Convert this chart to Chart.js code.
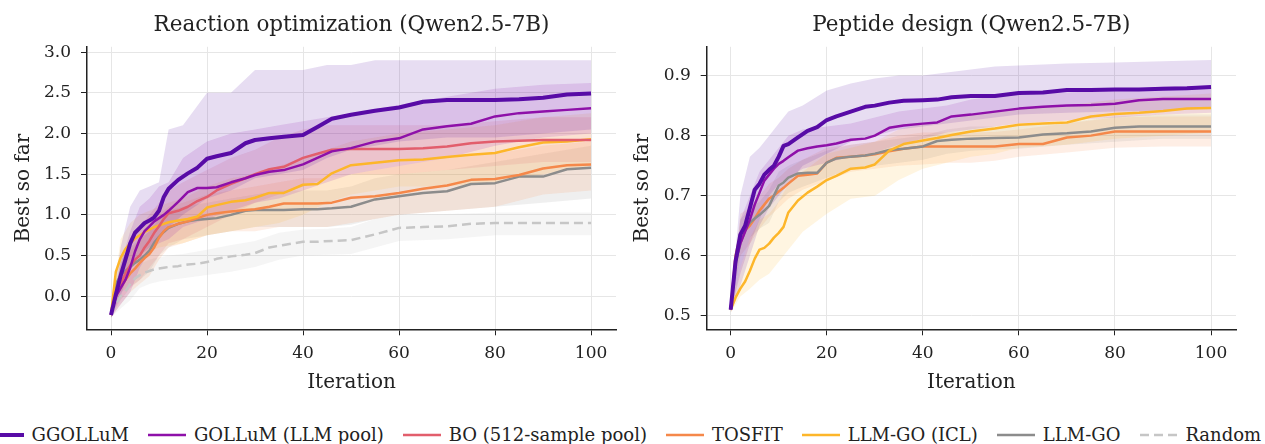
<!DOCTYPE html>
<html><head><meta charset="utf-8">
<script src="https://cdn.jsdelivr.net/npm/chart.js@4.4.1/dist/chart.umd.min.js"></script>
<style>
html,body{margin:0;padding:0;background:#fff;width:1265px;height:444px;overflow:hidden;font-family:"DejaVu Serif",serif;}
#left{position:absolute;left:0;top:0;}
#right{position:absolute;left:626px;top:0;}
#legend{position:absolute;left:-14px;top:424px;display:flex;white-space:nowrap;gap:19.5px;font-size:18px;line-height:21px;color:#222;align-items:center;}
.item{display:flex;align-items:center;gap:7.5px;}
.item svg{display:block;}
</style></head><body>
<canvas id="left" width="626" height="400"></canvas>
<canvas id="right" width="639" height="400"></canvas>
<div id="legend"></div>
<script>
// ---- categories / x values ----
const iterations = [0,1,2,3,4,5,6,7,8,9,10,11,12,14,16,18,20,22,25,28,30,33,36,40,43,46,50,55,60,65,70,75,80,85,90,95,100];
const bandIterations = [0,2,4,6,8,10,12,15,20,25,30,35,40,45,50,55,60,70,80,90,100];
const xTicks = [0,20,40,60,80,100];
const rxnYTicks = [0.0,0.5,1.0,1.5,2.0,2.5,3.0];
const pepYTicks = [0.5,0.6,0.7,0.8,0.9];
const seriesNames = ["GGOLLuM","GOLLuM (LLM pool)","BO (512-sample pool)","TOSFIT","LLM-GO (ICL)","LLM-GO","Random"];

// ---- Reaction optimization: means ----
const rxnGGOLLuM = [-0.23,0.02,0.25,0.45,0.65,0.78,0.84,0.9,0.93,0.97,1.05,1.22,1.32,1.43,1.51,1.58,1.69,1.72,1.76,1.88,1.92,1.94,1.96,1.98,2.08,2.18,2.23,2.28,2.32,2.39,2.41,2.41,2.41,2.42,2.44,2.48,2.49];
const rxnGOLLuM = [-0.23,0.0,0.1,0.2,0.35,0.55,0.7,0.8,0.86,0.92,0.96,1.0,1.05,1.16,1.28,1.33,1.33,1.34,1.4,1.45,1.49,1.53,1.55,1.62,1.70,1.78,1.82,1.9,1.94,2.05,2.09,2.12,2.21,2.25,2.27,2.29,2.31];
const rxnBO = [-0.23,0.0,0.15,0.28,0.38,0.45,0.5,0.6,0.68,0.78,0.86,0.95,1.02,1.05,1.1,1.17,1.22,1.3,1.38,1.45,1.5,1.56,1.59,1.70,1.75,1.8,1.81,1.81,1.81,1.82,1.84,1.88,1.9,1.91,1.92,1.92,1.92];
const rxnTOSFIT = [-0.23,0.0,0.1,0.2,0.28,0.34,0.41,0.47,0.52,0.6,0.72,0.8,0.85,0.89,0.92,0.96,1.0,1.02,1.04,1.06,1.07,1.1,1.14,1.14,1.14,1.15,1.21,1.23,1.27,1.32,1.36,1.43,1.44,1.49,1.57,1.61,1.62];
const rxnICL = [-0.23,0.3,0.47,0.58,0.65,0.71,0.75,0.79,0.82,0.85,0.87,0.89,0.91,0.93,0.95,0.98,1.09,1.12,1.16,1.18,1.21,1.27,1.27,1.37,1.38,1.51,1.61,1.64,1.67,1.68,1.71,1.74,1.76,1.83,1.89,1.9,1.93];
const rxnLLMGO = [-0.23,0.15,0.26,0.31,0.36,0.41,0.45,0.5,0.56,0.66,0.73,0.79,0.84,0.89,0.92,0.94,0.95,0.96,1.0,1.05,1.06,1.06,1.06,1.07,1.07,1.08,1.1,1.19,1.23,1.27,1.29,1.38,1.39,1.47,1.47,1.56,1.58];
const rxnRandom = [-0.23,-0.1,0.0,0.06,0.15,0.22,0.26,0.29,0.31,0.33,0.34,0.35,0.36,0.37,0.39,0.4,0.42,0.46,0.49,0.51,0.53,0.6,0.63,0.67,0.67,0.68,0.69,0.76,0.84,0.85,0.86,0.89,0.9,0.9,0.9,0.9,0.9];

// ---- Reaction optimization: bands (lower / upper) ----
const rxnGGOLLuMLow  = [-0.26,0.0,0.35,0.5,0.6,0.7,0.85,1.0,1.2,1.3,1.45,1.5,1.55,1.7,1.8,1.85,1.9,1.95,1.95,2.0,2.05];
const rxnGGOLLuMHigh = [-0.2,0.6,1.1,1.3,1.35,1.4,2.05,2.1,2.5,2.5,2.78,2.78,2.78,2.84,2.84,2.9,2.9,2.9,2.9,2.9,2.9];
const rxnGOLLuMLow  = [-0.26,-0.1,0.05,0.35,0.55,0.65,0.7,0.85,0.95,1.05,1.15,1.2,1.3,1.4,1.5,1.55,1.6,1.7,1.85,1.95,2.0];
const rxnGOLLuMHigh = [-0.2,0.4,0.8,1.1,1.2,1.35,1.4,1.7,1.9,2.0,2.05,2.1,2.15,2.2,2.25,2.3,2.35,2.45,2.55,2.6,2.62];
const rxnBOLow  = [-0.26,-0.05,0.1,0.2,0.35,0.5,0.65,0.7,0.85,1.0,1.15,1.25,1.35,1.45,1.5,1.5,1.5,1.55,1.6,1.65,1.65];
const rxnBOHigh = [-0.2,0.4,0.7,0.85,1.0,1.15,1.3,1.4,1.55,1.7,1.8,1.95,2.05,2.1,2.1,2.1,2.1,2.1,2.15,2.2,2.2];
const rxnTOSFITLow  = [-0.26,-0.1,0.05,0.15,0.25,0.45,0.6,0.65,0.75,0.8,0.8,0.85,0.85,0.85,0.9,0.95,1.0,1.05,1.1,1.25,1.3];
const rxnTOSFITHigh = [-0.2,0.35,0.55,0.7,0.8,1.0,1.1,1.15,1.25,1.3,1.35,1.4,1.45,1.45,1.5,1.55,1.6,1.7,1.75,1.85,1.9];
const rxnICLLow  = [-0.26,0.25,0.4,0.5,0.55,0.6,0.62,0.65,0.75,0.8,0.85,0.9,1.0,1.15,1.25,1.3,1.35,1.35,1.4,1.5,1.6];
const rxnICLHigh = [-0.2,0.7,0.9,1.0,1.05,1.1,1.15,1.2,1.35,1.45,1.5,1.6,1.7,1.8,1.9,1.95,2.0,2.05,2.1,2.2,2.25];
const rxnLLMGOLow  = [-0.26,0.05,0.12,0.2,0.3,0.5,0.6,0.7,0.75,0.8,0.85,0.85,0.85,0.85,0.88,0.95,1.0,1.05,1.1,1.15,1.2];
const rxnLLMGOHigh = [-0.2,0.45,0.6,0.7,0.8,0.95,1.05,1.1,1.15,1.2,1.25,1.3,1.3,1.3,1.35,1.45,1.5,1.55,1.65,1.75,1.85];
const rxnRandomLow  = [-0.26,-0.15,-0.05,0.1,0.15,0.18,0.2,0.22,0.26,0.3,0.36,0.45,0.5,0.51,0.52,0.6,0.68,0.7,0.75,0.75,0.75];
const rxnRandomHigh = [-0.2,0.15,0.3,0.4,0.45,0.48,0.5,0.52,0.57,0.63,0.68,0.78,0.82,0.83,0.85,0.95,1.0,1.01,1.03,1.03,1.03];

// ---- Peptide design: means ----
const pepGGOLLuM = [0.51,0.59,0.635,0.65,0.68,0.71,0.72,0.735,0.743,0.75,0.765,0.783,0.786,0.797,0.808,0.814,0.826,0.832,0.84,0.848,0.85,0.855,0.858,0.859,0.86,0.864,0.866,0.866,0.871,0.872,0.876,0.876,0.877,0.877,0.878,0.879,0.881];
const pepGOLLuM = [0.51,0.59,0.62,0.64,0.66,0.685,0.705,0.725,0.735,0.745,0.753,0.758,0.764,0.775,0.779,0.782,0.784,0.787,0.793,0.795,0.8,0.813,0.817,0.82,0.822,0.832,0.835,0.84,0.845,0.848,0.85,0.851,0.853,0.859,0.861,0.861,0.861];
const pepTOSFIT = [0.51,0.6,0.635,0.642,0.65,0.662,0.675,0.685,0.695,0.7,0.707,0.713,0.72,0.733,0.735,0.737,0.755,0.763,0.765,0.767,0.769,0.774,0.778,0.782,0.782,0.782,0.782,0.782,0.786,0.786,0.797,0.8,0.807,0.807,0.807,0.807,0.807];
const pepICL = [0.51,0.53,0.545,0.557,0.575,0.595,0.61,0.613,0.62,0.63,0.638,0.648,0.672,0.692,0.705,0.715,0.726,0.733,0.745,0.747,0.752,0.775,0.786,0.792,0.796,0.801,0.807,0.812,0.818,0.82,0.822,0.832,0.836,0.838,0.841,0.845,0.846];
const pepLLMGO = [0.51,0.585,0.62,0.642,0.655,0.662,0.668,0.675,0.683,0.7,0.717,0.722,0.73,0.737,0.738,0.738,0.755,0.762,0.765,0.767,0.77,0.776,0.778,0.782,0.791,0.793,0.795,0.796,0.797,0.802,0.804,0.807,0.813,0.815,0.815,0.815,0.815];

// ---- Peptide design: bands ----
const pepGGOLLuMLow  = [0.505,0.55,0.6,0.65,0.68,0.7,0.72,0.75,0.77,0.79,0.8,0.81,0.815,0.82,0.825,0.83,0.835,0.838,0.84,0.842,0.845];
const pepGGOLLuMHigh = [0.515,0.7,0.765,0.78,0.8,0.82,0.84,0.85,0.875,0.887,0.895,0.9,0.9,0.905,0.91,0.915,0.917,0.92,0.922,0.924,0.926];
const pepGOLLuMLow  = [0.505,0.57,0.62,0.66,0.7,0.72,0.73,0.745,0.755,0.765,0.772,0.785,0.795,0.805,0.81,0.815,0.82,0.825,0.83,0.835,0.838];
const pepGOLLuMHigh = [0.515,0.66,0.7,0.74,0.76,0.78,0.8,0.81,0.815,0.82,0.83,0.84,0.845,0.85,0.86,0.865,0.868,0.872,0.875,0.882,0.883];
const pepTOSFITLow  = [0.505,0.6,0.62,0.645,0.665,0.68,0.695,0.71,0.725,0.74,0.745,0.75,0.752,0.755,0.755,0.758,0.765,0.772,0.78,0.782,0.782];
const pepTOSFITHigh = [0.515,0.67,0.68,0.7,0.72,0.73,0.745,0.76,0.78,0.785,0.79,0.8,0.805,0.805,0.805,0.806,0.81,0.82,0.83,0.832,0.832];
const pepICLLow  = [0.505,0.532,0.545,0.56,0.57,0.59,0.61,0.64,0.67,0.695,0.7,0.726,0.745,0.755,0.765,0.77,0.78,0.785,0.795,0.8,0.805];
const pepICLHigh = [0.515,0.58,0.63,0.66,0.67,0.69,0.72,0.74,0.77,0.78,0.79,0.81,0.82,0.825,0.835,0.84,0.845,0.85,0.86,0.865,0.87];
const pepLLMGOLow  = [0.505,0.58,0.63,0.645,0.655,0.69,0.705,0.715,0.73,0.745,0.75,0.755,0.76,0.77,0.775,0.777,0.778,0.785,0.79,0.795,0.795];
const pepLLMGOHigh = [0.515,0.66,0.68,0.69,0.71,0.74,0.75,0.76,0.775,0.785,0.79,0.795,0.8,0.81,0.815,0.815,0.817,0.822,0.832,0.835,0.835];

// ---- styles ----
const colors = {GGOLLuM:"#580BA6", GOLLuM:"#8E10A9", BO:"#E25E6C", TOSFIT:"#F5884A", ICL:"#FDB62A", LLMGO:"#8C8C8C", Random:"#C6C6C6"};
function rgba(hex, a){const n=parseInt(hex.slice(1),16);return `rgba(${n>>16},${(n>>8)&255},${n&255},${a})`;}
function zip(xs, ys){return xs.map((x,i)=>({x:x,y:ys[i]}));}

const rxnSeries = [
  {mean:rxnGGOLLuM, low:rxnGGOLLuMLow, high:rxnGGOLLuMHigh, color:colors.GGOLLuM, width:4},
  {mean:rxnGOLLuM, low:rxnGOLLuMLow, high:rxnGOLLuMHigh, color:colors.GOLLuM, width:2.5},
  {mean:rxnBO, low:rxnBOLow, high:rxnBOHigh, color:colors.BO, width:2.5},
  {mean:rxnICL, low:rxnICLLow, high:rxnICLHigh, color:colors.ICL, width:2.5},
  {mean:rxnTOSFIT, low:rxnTOSFITLow, high:rxnTOSFITHigh, color:colors.TOSFIT, width:2.5},
  {mean:rxnLLMGO, low:rxnLLMGOLow, high:rxnLLMGOHigh, color:colors.LLMGO, width:2.5},
  {mean:rxnRandom, low:rxnRandomLow, high:rxnRandomHigh, color:colors.Random, width:2.5, dash:[9,5]}
];
const pepSeries = [
  {mean:pepGGOLLuM, low:pepGGOLLuMLow, high:pepGGOLLuMHigh, color:colors.GGOLLuM, width:4},
  {mean:pepGOLLuM, low:pepGOLLuMLow, high:pepGOLLuMHigh, color:colors.GOLLuM, width:2.5},
  {mean:pepICL, low:pepICLLow, high:pepICLHigh, color:colors.ICL, width:2.5},
  {mean:pepLLMGO, low:pepLLMGOLow, high:pepLLMGOHigh, color:colors.LLMGO, width:2.5},
  {mean:pepTOSFIT, low:pepTOSFITLow, high:pepTOSFITHigh, color:colors.TOSFIT, width:2.5}
];

const FONT = "'DejaVu Serif'";
const INK = "#222";
const PLOT_BOTTOM = 329.3, CANVAS_H = 400;

function buildChart(id, title, series, yMin, yMax, yTickList, yWidth, padRight, yTitlePad){
  const datasets = [];
  series.forEach(s => {
    const lowIdx = datasets.length;
    datasets.push({data:zip(bandIterations, s.low), borderColor:'rgba(0,0,0,0)', borderWidth:0, pointRadius:0, fill:false, order:20});
    datasets.push({data:zip(bandIterations, s.high), borderColor:'rgba(0,0,0,0)', borderWidth:0, pointRadius:0, fill:{target:lowIdx}, backgroundColor:rgba(s.color, s.color===colors.Random?0.18:0.14), order:20});
  });
  series.forEach((s,i) => datasets.push({data:zip(iterations, s.mean), borderColor:s.color, borderWidth:s.width, borderDash:s.dash||[], pointRadius:0, fill:false, order:i, borderCapStyle:'butt', borderJoinStyle:'round'}));
  return new Chart(document.getElementById(id), {
    type:'line',
    data:{datasets},
    options:{
      responsive:false, animation:false, devicePixelRatio:1,
      layout:{padding:{left:0,right:padRight,top:0,bottom:0}},
      elements:{line:{tension:0}},
      plugins:{
        legend:{display:false}, tooltip:{enabled:false},
        filler:{drawTime:'beforeDatasetsDraw'},
        title:{display:true, text:title, fullSize:false, color:INK, font:{family:FONT,size:21.5,weight:'normal'}, padding:{top:13,bottom:8}}
      },
      scales:{
        x:{type:'linear', min:-5, max:105.2,
          afterBuildTicks:sc=>{sc.ticks = xTicks.map(v=>({value:v}));},
          ticks:{color:INK, font:{family:FONT,size:17}, padding:8, callback:v=>String(v), maxRotation:0},
          grid:{color:'#e6e6e6', lineWidth:1, tickColor:INK, tickLength:6},
          border:{display:true, color:INK, width:1.5},
          title:{display:true, text:'Iteration', color:INK, font:{family:FONT,size:20}, padding:{top:5,bottom:5}},
          afterFit:sc=>{sc.height = CANVAS_H - PLOT_BOTTOM;}
        },
        y:{type:'linear', min:yMin, max:yMax,
          afterBuildTicks:sc=>{sc.ticks = yTickList.map(v=>({value:v}));},
          ticks:{color:INK, font:{family:FONT,size:17}, padding:10, callback:v=>Number(v).toFixed(1)},
          grid:{color:'#e6e6e6', lineWidth:1, tickColor:INK, tickLength:6},
          border:{display:true, color:INK, width:1.5},
          title:{display:true, text:'Best so far', color:INK, font:{family:FONT,size:20}, padding:{top:yTitlePad,bottom:yTitlePad}},
          afterFit:sc=>{sc.width = yWidth;}
        }
      }
    }
  });
}

buildChart('left', 'Reaction optimization (Qwen2.5-7B)', rxnSeries, -0.406, 3.065, rxnYTicks, 87, 10, 12);
buildChart('right', 'Peptide design (Qwen2.5-7B)', pepSeries, 0.4773, 0.948, pepYTicks, 80.7, 29, 5);

// ---- legend ----
const legendStyles = [
  {color:colors.GGOLLuM, w:4}, {color:colors.GOLLuM, w:2.5}, {color:colors.BO, w:2.5},
  {color:colors.TOSFIT, w:2.5}, {color:colors.ICL, w:2.5}, {color:colors.LLMGO, w:2.5}, {color:colors.Random, w:2.5, dash:'9,5'}
];
const lg = document.getElementById('legend');
seriesNames.forEach((name,i)=>{
  const st = legendStyles[i];
  const item = document.createElement('div'); item.className='item';
  item.innerHTML = `<svg width="38" height="10"><line x1="0" y1="5" x2="38" y2="5" stroke="${st.color}" stroke-width="${st.w}" ${st.dash?`stroke-dasharray="${st.dash}"`:''}/></svg><span>${name}</span>`;
  lg.appendChild(item);
});
</script>
</body></html>
